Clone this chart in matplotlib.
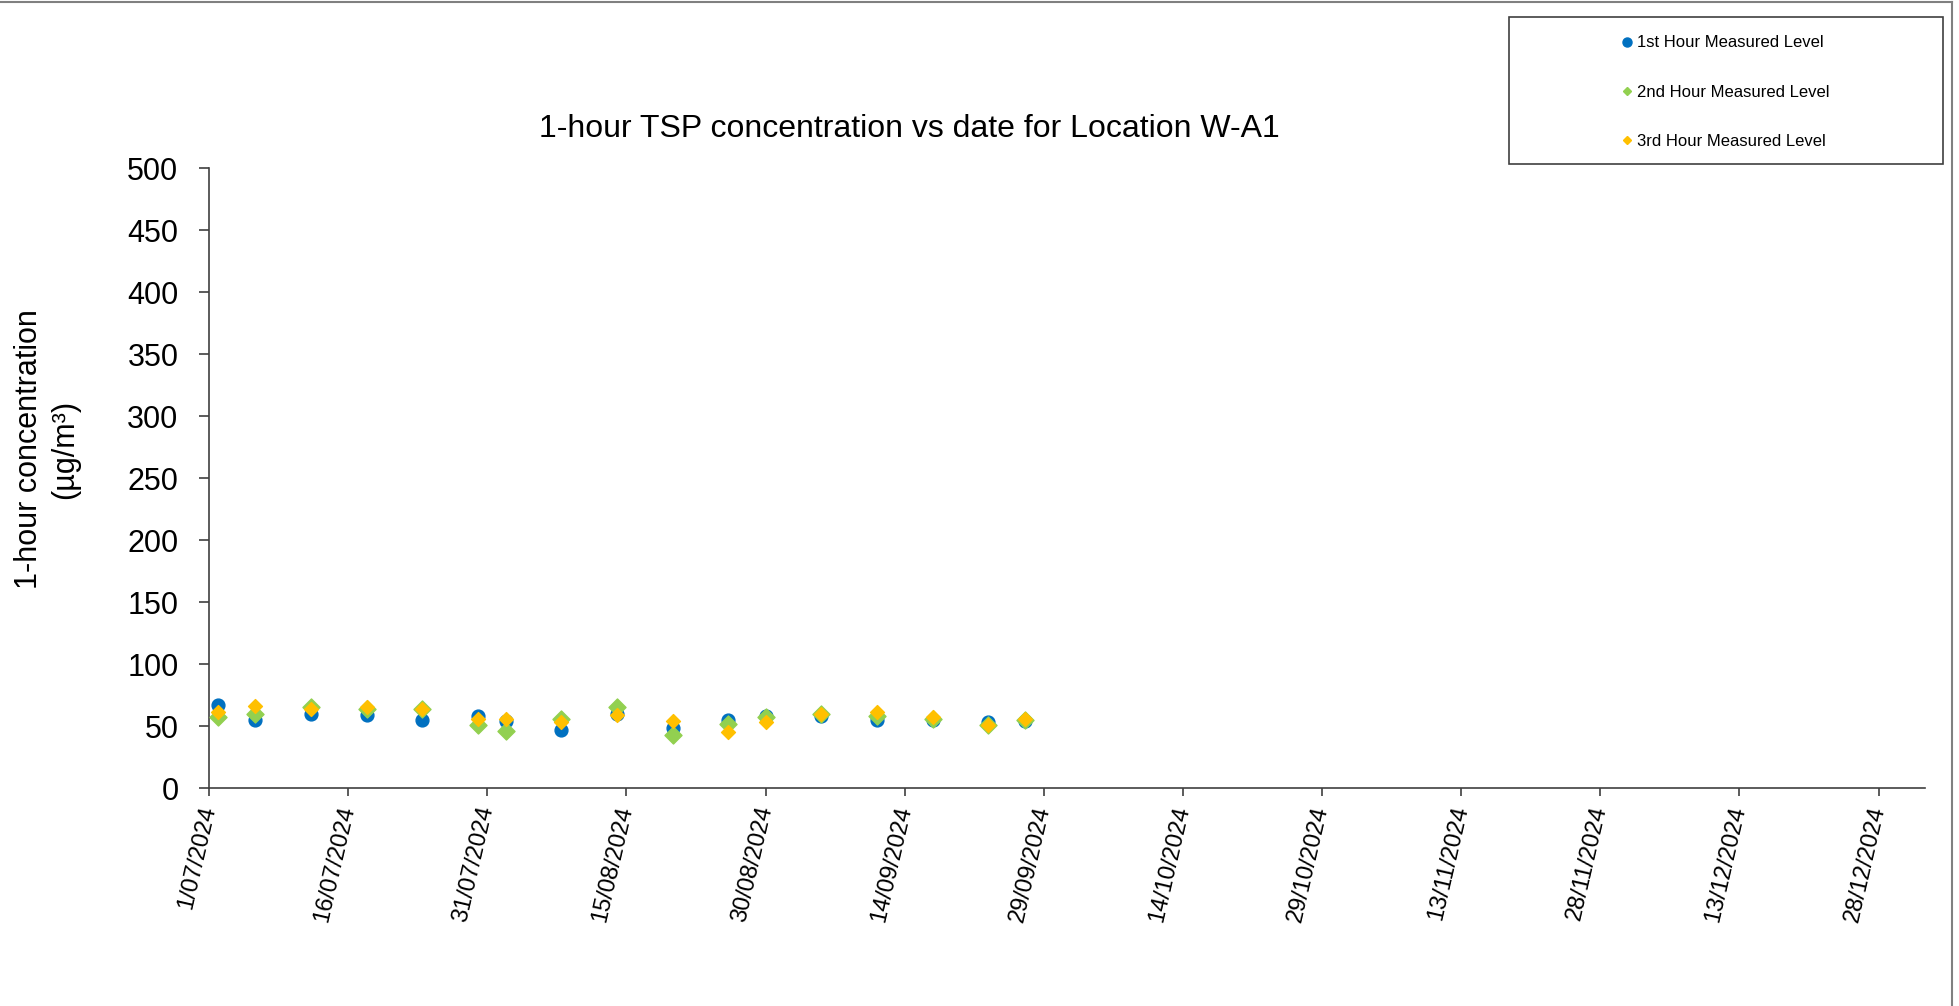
import matplotlib
matplotlib.use("Agg")
import matplotlib.pyplot as plt
from matplotlib.lines import Line2D
from matplotlib.patches import Rectangle
import pandas as pd

plt.rcParams['font.family'] = ['Liberation Sans', 'DejaVu Sans']

# sampling dates (d/m/Y) and the three hourly readings, ug/m3
dates = pd.to_datetime(["2/07/2024", "6/07/2024", "12/07/2024", "18/07/2024", "24/07/2024",
                        "30/07/2024", "2/08/2024", "8/08/2024", "14/08/2024", "20/08/2024",
                        "26/08/2024", "30/08/2024", "5/09/2024", "11/09/2024", "17/09/2024",
                        "23/09/2024", "27/09/2024"], dayfirst=True)
hour1 = [67, 55, 60, 59, 55, 58, 54, 47, 60, 48, 55, 58, 58, 55, 55, 53, 54]
hour2 = [57, 60, 65, 64, 64, 51, 46, 56, 65, 43, 52, 57, 60, 58, 56, 51, 55]
hour3 = [61, 66, 64, 65, 64, 56, 56, 53, 59, 54, 45, 53, 60, 61, 57, 51, 56]

series_labels = ["1st Hour Measured Level", "2nd Hour Measured Level", "3rd Hour Measured Level"]
blue, green, orange = "#0070C0", "#92D050", "#FFC000"

xstart = pd.Timestamp("2024-07-01")
xend = pd.Timestamp("2025-01-02")
xticks = pd.date_range(xstart, "2024-12-28", freq="15D")
yticks = list(range(0, 501, 50))

W, H = 1959, 1006
fig = plt.figure(figsize=(W / 100, H / 100), dpi=100)
ax = fig.add_axes([209 / W, 1 - 788 / H, (1925 - 209) / W, (788 - 168) / H])

ax.scatter(dates, hour1, s=85, marker="o", color=blue, zorder=3)
ax.scatter(dates, hour2, s=75, marker="D", color=green, zorder=4)
ax.scatter(dates, hour3, s=50, marker="D", color=orange, zorder=5)

ax.set_xlim(xstart, xend)
ax.set_ylim(0, 500)
ax.set_yticks(yticks)
ax.set_xticks(xticks)
ax.set_xticklabels([f"{d.day}/{d:%m/%Y}" for d in xticks], rotation=77,
                   ha="right", va="center", rotation_mode="anchor")

for side in ["top", "right"]:
    ax.spines[side].set_visible(False)
for side in ["left", "bottom"]:
    ax.spines[side].set_color("#404040")
    ax.spines[side].set_linewidth(1.2)
ax.tick_params(axis="y", length=7, width=1.2, color="#404040", labelsize=22, pad=15)
ax.tick_params(axis="x", length=6, width=1.2, color="#404040", labelsize=17, pad=7)

fig.text(909 / W, 1 - 129 / H, "1-hour TSP concentration vs date for Location W-A1",
         ha="center", va="center", fontsize=23)
fig.text(47 / W, 1 - 449 / H, "1-hour concentration\n(\u00b5g/m\u00b3)", rotation=90,
         ha="center", va="center", fontsize=22, linespacing=1.25, multialignment="center")

# legend box drawn separately so it can be wider than its entries
fig.add_artist(Rectangle((1509 / W, 1 - 164 / H), (1943 - 1509) / W, (164 - 17) / H,
                         transform=fig.transFigure, fill=False, edgecolor="#404040", lw=1.2))
handles = [Line2D([], [], ls="none", marker="o", ms=6.5, color=blue),
           Line2D([], [], ls="none", marker="D", ms=4.5, color=green),
           Line2D([], [], ls="none", marker="D", ms=4.5, color=orange)]
fig.legend(handles, series_labels, loc="center", bbox_to_anchor=(1724 / W, 1 - 92 / H),
           frameon=False, fontsize=12, labelspacing=2.05, handletextpad=0.1, handlelength=1.0)

# chart area border (top and right edges visible in the crop)
fig.add_artist(Line2D([0, 1952 / W], [1 - 2 / H, 1 - 2 / H], transform=fig.transFigure,
                      color="#808080", lw=1.5))
fig.add_artist(Line2D([1952 / W, 1952 / W], [0, 1 - 2 / H], transform=fig.transFigure,
                      color="#808080", lw=1.5))

fig.savefig("out.png", dpi=100)
